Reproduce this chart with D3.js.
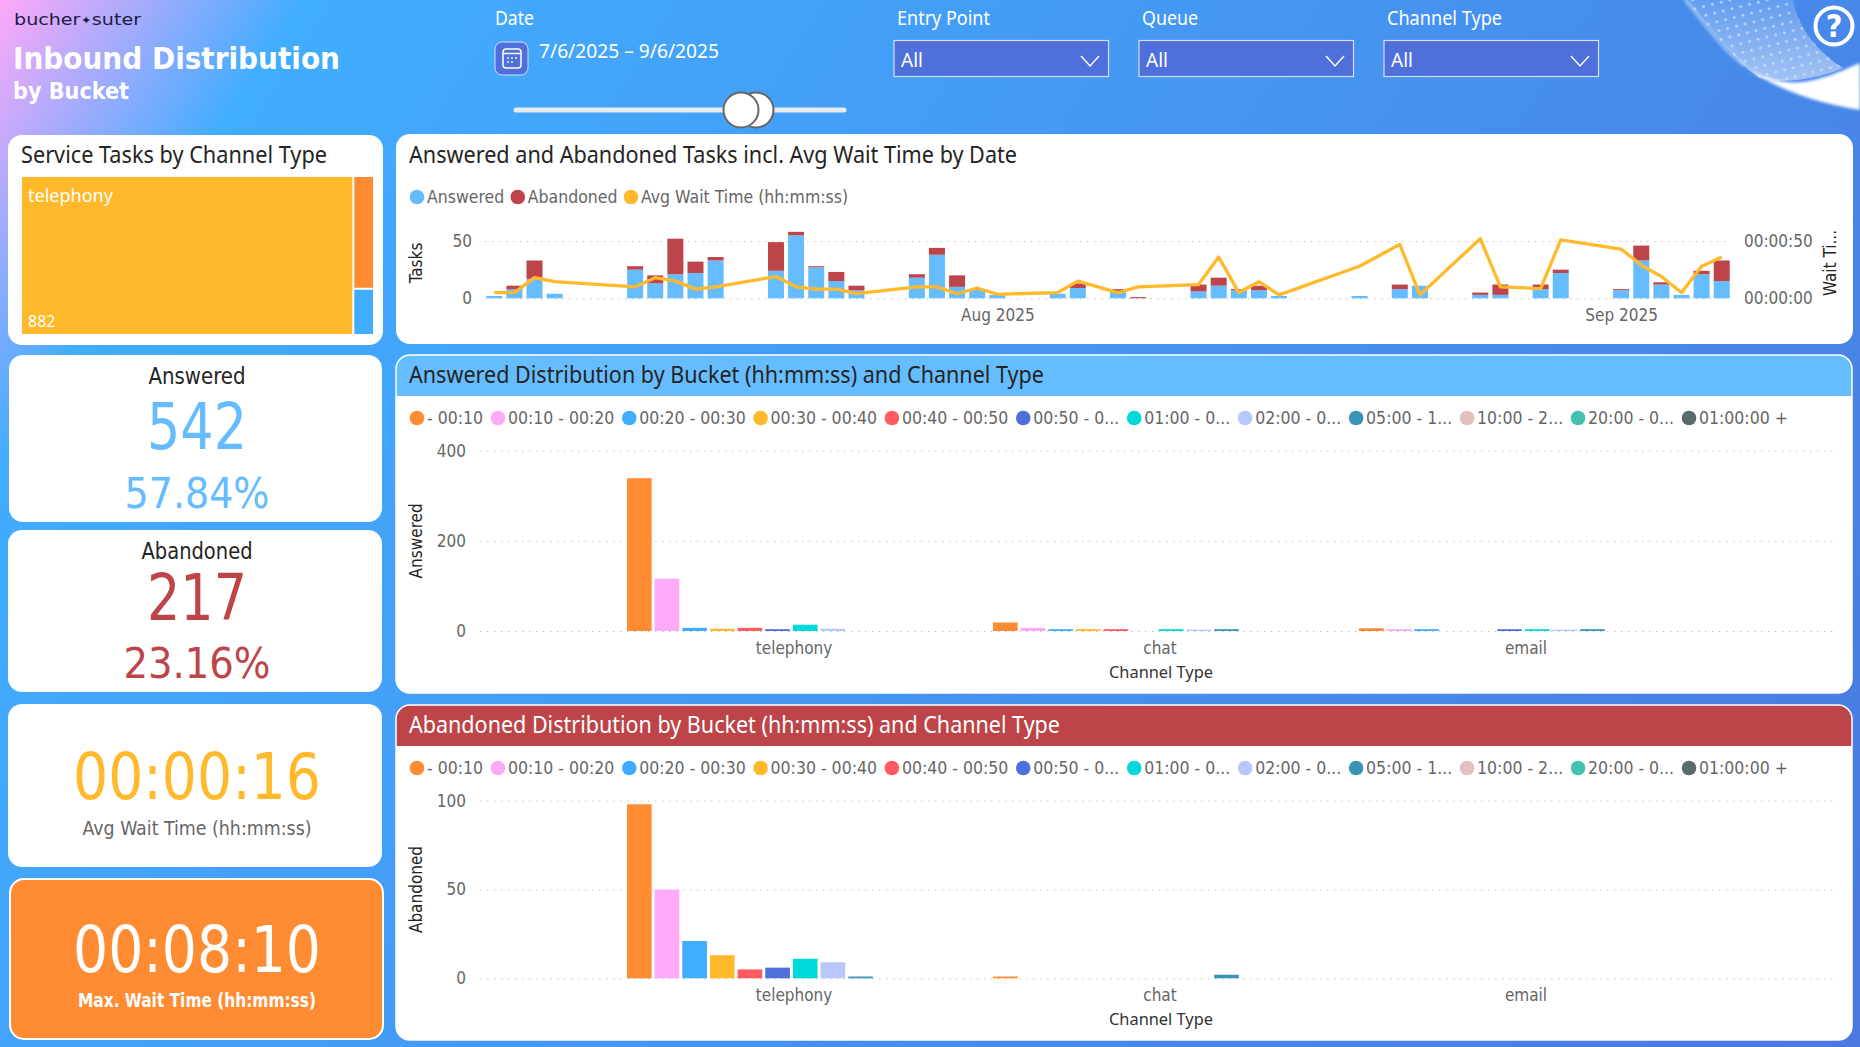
<!DOCTYPE html>
<html>
<head>
<meta charset="utf-8">
<title>Inbound Distribution by Bucket</title>
<script src="https://cdn.jsdelivr.net/npm/d3@7"></script>
<style>
  html, body { margin: 0; padding: 0; width: 1860px; height: 1047px; overflow: hidden; }
  body { background: linear-gradient(123deg, #ffa9f9 0%, #41adff 12%, #4a78e0 100%); }
  svg { display: block; }
  text { font-family: "DejaVu Sans Condensed", "DejaVu Sans", sans-serif; font-stretch: condensed; }
  .seg { font-family: "Noto Sans", "Open Sans", sans-serif; font-stretch: normal; }
  .wide { font-family: "DejaVu Sans", sans-serif; font-stretch: normal; }
  .tick line { stroke: #c4c4c4; stroke-dasharray: 1.5 5.5; }
  .tick text { fill: #666; font-size: 17px; }
  .domain { display: none; }
</style>
</head>
<body>
<svg id="page" width="1860" height="1047"></svg>
<script>
// --- values ---
var days = ["2025-07-07","2025-07-08","2025-07-09","2025-07-10","2025-07-14","2025-07-15","2025-07-16","2025-07-17","2025-07-18",
  "2025-07-21","2025-07-22","2025-07-23","2025-07-24","2025-07-25","2025-07-28","2025-07-29","2025-07-30","2025-07-31","2025-08-01",
  "2025-08-04","2025-08-05","2025-08-07","2025-08-08","2025-08-11","2025-08-12","2025-08-13","2025-08-14","2025-08-15","2025-08-19",
  "2025-08-21","2025-08-22","2025-08-25","2025-08-26","2025-08-28","2025-08-29","2025-09-01","2025-09-02","2025-09-03","2025-09-04",
  "2025-09-05","2025-09-06"];
var answeredByDay  = [2,8,17,4,25,13,21,22,33,24,55,27,15,7,18,38,10,7,3,4,9,6,0,6,11,7,7,2,2,8,11,3,3,8,22,7,33,12,3,21,15];
var abandonedByDay = [0,3,16,0,3,7,31,10,3,25,3,1,8,4,3,6,10,1,0,0,4,2,1,6,7,1,4,0,0,4,0,2,9,4,3,1,13,2,0,3,18];
var waitSecByDay   = [5,5,18,14.5,10,18,15,8,10,19,10,8,8,4,10,10,4,9,3.5,5,15,5,10,12,36,5,14.5,3,28,47,3,52,10,8.5,51,43,29,19,5,28,36];

var channels = ["telephony","chat","email"];
var buckets = ["- 00:10","00:10 - 00:20","00:20 - 00:30","00:30 - 00:40","00:40 - 00:50","00:50 - 0...","01:00 - 0...","02:00 - 0...","05:00 - 1...","10:00 - 2...","20:00 - 0...","01:00:00 +"];
var bucketColors = ["#ff8c33","#ffa9f9","#41adff","#ffb92b","#ff5b60","#4f6fda","#00d9d9","#b8c8fa","#3a95b5","#e3bfbf","#45c1b0","#5a6b6e"];

var answeredTelephony = [339,116,7,5,7,4,14,5,0,0,0,0];
var answeredChat      = [19,7,4,4,4,0,4,3,4,0,0,0];
var answeredEmail     = [6,4,4,0,0,4,4,3,4,0,0,0];
var abandonedTelephony = [98,50,21,13,5,6,11,9,1,0,0,0];
var abandonedChat      = [1,0,0,0,0,0,0,0,2,0,0,0];
var abandonedEmail     = [0,0,0,0,0,0,0,0,0,0,0,0];

var treemapNames = ["telephony","chat","email"];
var treemapValues = [882,39,16];
var treemapColors = ["#ffb92b","#ff8c33","#41adff"];

var blue = "#65bdff", red = "#bd4448", yellow = "#ffb92b", orange = "#ff8c33", indigo = "#4f6fda";

var svg = d3.select("#page");
var defs = svg.append("defs");

function txt(parent, x, y, str, size, color, o) {
  o = o || {};
  var t = parent.append("text").attr("x", x).attr("y", y).attr("font-size", size).attr("fill", color).text(str);
  if (o.anchor) t.attr("text-anchor", o.anchor);
  if (o.weight) t.attr("font-weight", o.weight);
  if (o.cls) t.attr("class", o.cls);
  if (o.width) t.attr("textLength", o.width).attr("lengthAdjust", "spacingAndGlyphs");
  return t;
}

function card(x0, y0, x1, y1, fill, stroke) {
  return svg.append("rect").attr("x", x0).attr("y", y0).attr("width", x1 - x0).attr("height", y1 - y0)
    .attr("rx", 14).attr("fill", fill || "#fff").attr("stroke", stroke || "none").attr("stroke-width", 2);
}

// --- header ---
var solidBand = "M1742,64 C1765,82 1800,100 1860,110 L1860,63 C1840,72 1820,80 1803,82 C1785,84 1765,80 1742,64 Z";
var dotted = "M1685,0 C1705,22 1735,62 1760,78 C1780,84 1815,80 1843,68 C1818,52 1798,28 1793,0 Z";
var hazeEdge = "M1685,0 C1702,20 1722,50 1745,66";
defs.append("filter").attr("id", "soft").append("feGaussianBlur").attr("stdDeviation", 1.6);
var fade = defs.append("linearGradient").attr("id", "fade").attr("x1", 0).attr("y1", 0).attr("x2", 0).attr("y2", 1);
fade.append("stop").attr("offset", "0%").attr("stop-color", "#fff").attr("stop-opacity", 0.16);
fade.append("stop").attr("offset", "100%").attr("stop-color", "#fff").attr("stop-opacity", 0.5);
var pat = defs.append("pattern").attr("id", "dots").attr("width", 9).attr("height", 9)
  .attr("patternUnits", "userSpaceOnUse").attr("patternTransform", "rotate(-14)");
pat.append("circle").attr("cx", 4.5).attr("cy", 4.5).attr("r", 1.3).attr("fill", "#dfe9ff");
svg.append("path").attr("d", dotted).attr("fill", "url(#fade)");
svg.append("path").attr("d", dotted).attr("fill", "url(#dots)").attr("opacity", 0.8);
svg.append("path").attr("d", hazeEdge).attr("fill", "none").attr("stroke", "#fff").attr("stroke-width", 2.5).attr("opacity", 0.55).attr("filter", "url(#soft)");
svg.append("path").attr("d", solidBand).attr("fill", "#fff").attr("filter", "url(#soft)");

svg.append("circle").attr("cx", 1834).attr("cy", 26).attr("r", 18.5).attr("fill", "none").attr("stroke", "#fff").attr("stroke-width", 4);
txt(svg, 1834, 37, "?", 32, "#fff", {anchor: "middle", weight: "bold"});

var logo = txt(svg, 14, 25, "bucher", 15.5, "#1c1c44", {cls: "wide"});
logo.append("tspan").attr("font-size", 11).attr("dy", -1).text("✦");
logo.append("tspan").attr("dy", 1).text("suter");
logo.attr("textLength", 127).attr("lengthAdjust", "spacingAndGlyphs");

txt(svg, 13, 69, "Inbound Distribution", 31, "#fff", {weight: "bold", width: 327});
txt(svg, 13, 99, "by Bucket", 23, "#fff", {weight: "bold", width: 116});

txt(svg, 495, 25, "Date", 19, "#fff", {cls: "seg", width: 39});
svg.append("rect").attr("x", 495).attr("y", 42).attr("width", 33).attr("height", 33).attr("rx", 7)
  .attr("fill", indigo).attr("stroke", "#cfe0ff").attr("stroke-width", 1);
svg.append("rect").attr("x", 503).attr("y", 49).attr("width", 18).attr("height", 19).attr("rx", 3)
  .attr("fill", "none").attr("stroke", "#fff").attr("stroke-width", 1.5);
svg.append("line").attr("x1", 503).attr("x2", 521).attr("y1", 53.5).attr("y2", 53.5).attr("stroke", "#fff").attr("stroke-width", 1.5);
[[508,58],[512,58],[516,58],[508,62],[512,62]].forEach(function(p) {
  svg.append("circle").attr("cx", p[0]).attr("cy", p[1]).attr("r", 0.9).attr("fill", "#fff");
});
txt(svg, 539, 58, "7/6/2025 – 9/6/2025", 19, "#fff", {cls: "seg", width: 180});

svg.append("line").attr("x1", 516).attr("x2", 844).attr("y1", 110).attr("y2", 110)
  .attr("stroke", "#e8ecef").attr("stroke-width", 5).attr("stroke-linecap", "round");
[756, 741].forEach(function(cx) {
  svg.append("circle").attr("cx", cx).attr("cy", 110).attr("r", 17.5).attr("fill", "#fff").attr("stroke", "#666").attr("stroke-width", 2);
});

var filterNames = ["Entry Point","Queue","Channel Type"];
var filterX = [894, 1139, 1384];
var filterLabelWidth = [93, 56, 115];
filterNames.forEach(function(name, i) {
  var x = filterX[i];
  txt(svg, x + 3, 25, name, 19, "#fff", {cls: "seg", width: filterLabelWidth[i]});
  svg.append("rect").attr("x", x).attr("y", 40.5).attr("width", 214.5).attr("height", 36)
    .attr("fill", indigo).attr("stroke", "#d4def8").attr("stroke-width", 1.2);
  txt(svg, x + 7, 67, "All", 19, "#fff", {cls: "seg"});
  svg.append("path").attr("d", "M" + (x + 187) + ",56 L" + (x + 196) + ",66 L" + (x + 205) + ",56")
    .attr("fill", "none").attr("stroke", "#fff").attr("stroke-width", 1.4);
});

// --- treemap ---
card(8, 135, 383, 345);
txt(svg, 21, 163, "Service Tasks by Channel Type", 23.5, "#252423", {cls: "seg", width: 306});

var treeRoot = d3.hierarchy({children: treemapNames.map(function(n, i) { return {name: n, value: treemapValues[i], color: treemapColors[i]}; })})
  .sum(function(d) { return d.value; });
d3.treemap().tile(d3.treemapSquarify).size([351, 157]).paddingInner(2)(treeRoot);
var tree = svg.append("g").attr("transform", "translate(22,177)");
tree.selectAll("rect").data(treeRoot.leaves()).join("rect")
  .attr("x", function(d) { return d.x0; }).attr("y", function(d) { return d.y0; })
  .attr("width", function(d) { return d.x1 - d.x0; }).attr("height", function(d) { return d.y1 - d.y0; })
  .attr("fill", function(d) { return d.data.color; });
txt(svg, 28, 202, treemapNames[0], 18, "#fff", {cls: "seg"});
txt(svg, 28, 327, String(treemapValues[0]), 16, "#fff", {cls: "seg"});

// --- KPI cards ---
card(9, 355, 382, 522);
txt(svg, 197, 384, "Answered", 23, "#252423", {anchor: "middle", width: 97});
txt(svg, 197, 449, "542", 64, blue, {anchor: "middle", width: 100});
txt(svg, 197, 508, "57.84%", 42, blue, {anchor: "middle", width: 145});

card(8, 530, 382, 692);
txt(svg, 197, 559, "Abandoned", 23, "#252423", {anchor: "middle", width: 111});
txt(svg, 197, 620, "217", 64, red, {anchor: "middle", width: 100});
txt(svg, 197, 678, "23.16%", 42, red, {anchor: "middle", width: 147});

card(8, 704, 382, 867);
txt(svg, 197, 799, "00:00:16", 64, yellow, {anchor: "middle", width: 248});
txt(svg, 197, 835, "Avg Wait Time (hh:mm:ss)", 19, "#666", {anchor: "middle", width: 229});

card(10, 879, 383, 1039, orange, "#fff");
txt(svg, 197, 972, "00:08:10", 64, "#fff", {anchor: "middle", width: 248});
txt(svg, 197, 1007, "Max. Wait Time (hh:mm:ss)", 19, "#fff", {anchor: "middle", weight: "bold", width: 238});

// legend laid out from measured text
function legend(y, startX, names, colors, gap) {
  var x = startX;
  names.forEach(function(n, i) {
    svg.append("circle").attr("cx", x).attr("cy", y).attr("r", 7.3).attr("fill", colors[i]);
    var t = txt(svg, x + 10, y + 6, n, 17.5, "#666");
    x += 10 + t.node().getComputedTextLength() + gap;
  });
}

// --- timeline ---
card(396, 134, 1853, 344);
txt(svg, 409, 163, "Answered and Abandoned Tasks incl. Avg Wait Time by Date", 23.5, "#252423", {cls: "seg", width: 608});
legend(197, 417, ["Answered","Abandoned","Avg Wait Time (hh:mm:ss)"], [blue, red, yellow], 13.5);

var parseDay = d3.utcParse("%Y-%m-%d");
var dayDates = days.map(parseDay);
var timeX = d3.scaleUtc()
  .domain([new Date(Date.UTC(2025, 6, 6, 12)), new Date(Date.UTC(2025, 8, 6, 12))])
  .range([484.2, 1731.8]);
var taskY = d3.scaleLinear().domain([0, 50]).range([298.3, 241]);
var waitY = d3.scaleLinear().domain([0, 50]).range([298.3, 241]);

svg.append("g").attr("transform", "translate(485,0)")
  .call(d3.axisLeft(taskY).tickValues([0, 50]).tickSize(-1245).tickPadding(13));
svg.append("g").attr("transform", "translate(1731,0)")
  .call(d3.axisRight(waitY).tickValues([0, 50]).tickSize(0).tickPadding(13)
    .tickFormat(function(d) { return d3.format("02")(Math.floor(d / 3600)) + ":" + d3.format("02")(Math.floor(d / 60) % 60) + ":" + d3.format("02")(d % 60); }));
svg.append("g").attr("transform", "translate(0,298.3)")
  .call(d3.axisBottom(timeX).tickValues([new Date(Date.UTC(2025, 7, 1)), new Date(Date.UTC(2025, 8, 1))])
    .tickSize(0).tickPadding(11).tickFormat(d3.utcFormat("%b %Y")));

var dayRows = days.map(function(d, i) { return {date: dayDates[i], answered: answeredByDay[i], abandoned: abandonedByDay[i]}; });
var daySeries = d3.stack().keys(["answered", "abandoned"])(dayRows);
svg.append("g").selectAll("g").data(daySeries).join("g")
  .attr("fill", function(s) { return s.key == "answered" ? blue : red; })
  .selectAll("rect").data(function(s) { return s; }).join("rect")
  .attr("x", function(d) { return timeX(d.data.date) - 8; })
  .attr("width", 16)
  .attr("y", function(d) { return taskY(d[1]); })
  .attr("height", function(d) { return taskY(d[0]) - taskY(d[1]); });

svg.append("path").datum(waitSecByDay)
  .attr("fill", "none").attr("stroke", yellow).attr("stroke-width", 3.3).attr("stroke-linejoin", "round")
  .attr("d", d3.line().x(function(d, i) { return timeX(dayDates[i]); }).y(function(d) { return waitY(d); }));

txt(svg, 0, 0, "Tasks", 17, "#252423", {anchor: "middle"}).attr("transform", "translate(422,263) rotate(-90)");
txt(svg, 0, 0, "Wait Ti...", 17, "#252423", {anchor: "middle"}).attr("transform", "translate(1836,263) rotate(-90)");

// --- bucket charts ---
function bucketPanel(o) {
  var clipId = "clip" + o.top;
  card(396, o.top, 1852, o.bottom);
  defs.append("clipPath").attr("id", clipId).append("rect").attr("x", 396).attr("y", o.top).attr("width", 1456).attr("height", o.bottom - o.top).attr("rx", 14);
  svg.append("rect").attr("x", 396).attr("y", o.top).attr("width", 1456).attr("height", 41).attr("fill", o.headFill).attr("clip-path", "url(#" + clipId + ")");
  svg.append("rect").attr("x", 396).attr("y", o.top).attr("width", 1456).attr("height", o.bottom - o.top).attr("rx", 14)
    .attr("fill", "none").attr("stroke", "#fff").attr("stroke-width", 1.5);
  txt(svg, 409, o.top + 28, o.title, 23.5, o.headText, {cls: "seg", width: o.titleWidth});

  legend(o.top + 63, 417, buckets, bucketColors, 14.9);

  var x0 = d3.scaleBand().domain(channels).range([611, 1709]);
  var x1 = d3.scaleBand().domain(buckets).range([16, x0.bandwidth() - 21.2]).paddingInner(0.108);
  var y = d3.scaleLinear().domain([0, o.max]).range([o.y0, o.yMax]);

  svg.append("g").attr("transform", "translate(480,0)")
    .call(d3.axisLeft(y).tickValues(o.ticks).tickSize(-1357).tickPadding(14));
  svg.append("g").attr("transform", "translate(0," + o.y0 + ")")
    .call(d3.axisBottom(x0).tickSize(0).tickPadding(11));

  var groups = svg.append("g").selectAll("g").data(o.rows).join("g")
    .attr("transform", function(d, i) { return "translate(" + x0(channels[i]) + ",0)"; });
  groups.selectAll("rect").data(function(d) { return d; }).join("rect")
    .attr("x", function(d, i) { return x1(buckets[i]); })
    .attr("width", x1.bandwidth())
    .attr("y", function(d) { return y(d); })
    .attr("height", function(d) { return y(0) - y(d); })
    .attr("fill", function(d, i) { return bucketColors[i]; });

  txt(svg, 0, 0, o.yLabel, 17, "#252423", {anchor: "middle"}).attr("transform", "translate(422," + (o.y0 + o.yMax) / 2 + ") rotate(-90)");
  txt(svg, 1161, o.y0 + 47, "Channel Type", 17, "#333", {anchor: "middle", cls: "seg", width: 104});
}

bucketPanel({
  top: 355, bottom: 693, headFill: blue, headText: "#252423",
  title: "Answered Distribution by Bucket (hh:mm:ss) and Channel Type", titleWidth: 635,
  max: 400, ticks: [0, 200, 400], y0: 631, yMax: 450.7, yLabel: "Answered",
  rows: [answeredTelephony, answeredChat, answeredEmail]
});
bucketPanel({
  top: 705, bottom: 1040, headFill: red, headText: "#fff",
  title: "Abandoned Distribution by Bucket (hh:mm:ss) and Channel Type", titleWidth: 651,
  max: 100, ticks: [0, 50, 100], y0: 978.3, yMax: 800.7, yLabel: "Abandoned",
  rows: [abandonedTelephony, abandonedChat, abandonedEmail]
});
</script>
</body>
</html>
